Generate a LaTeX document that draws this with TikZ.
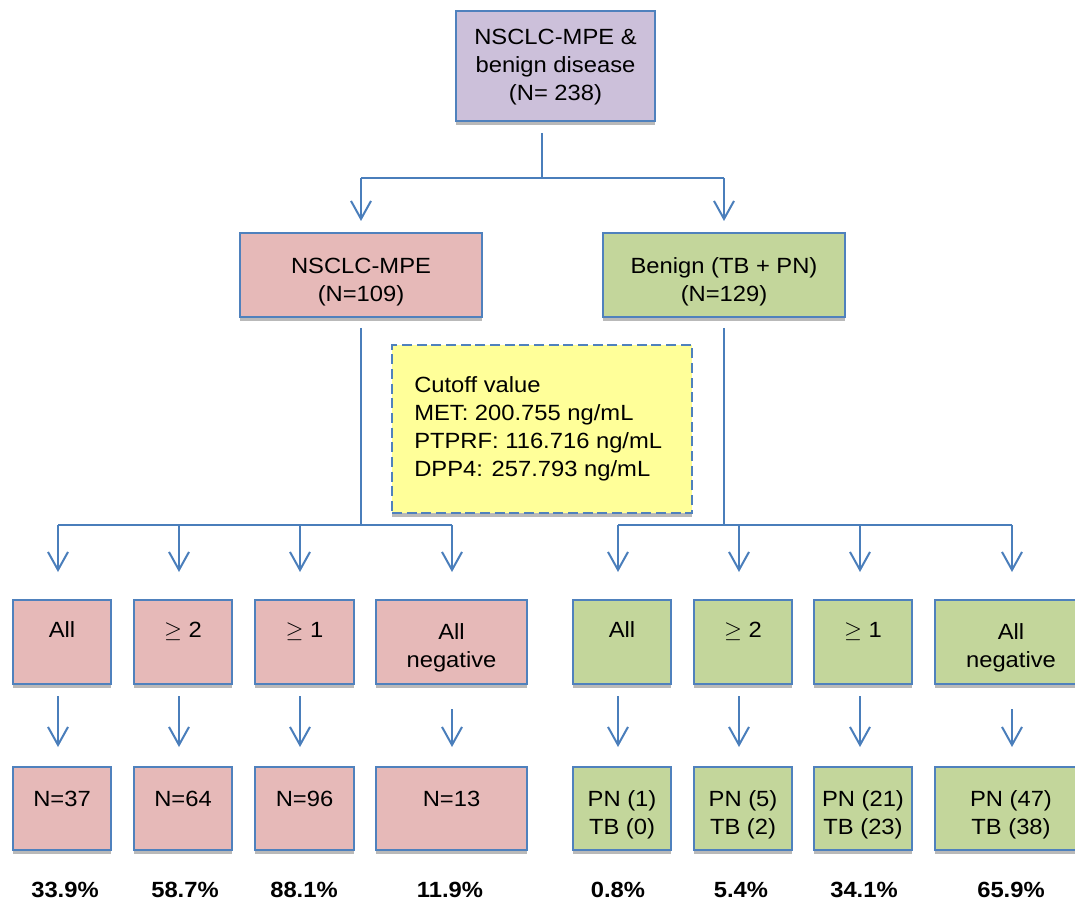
\documentclass[tikz,border=0pt]{standalone}
\usepackage{fontspec}
\setmainfont{Liberation Sans}[FakeStretch=1.08]
\usetikzlibrary{arrows.meta,shadows,calc}
\definecolor{bordc}{RGB}{79,129,189}
\definecolor{linec}{RGB}{74,126,187}
\definecolor{purp}{RGB}{204,192,218}
\definecolor{pinkc}{RGB}{230,185,184}
\definecolor{grn}{RGB}{195,214,155}
\definecolor{yel}{RGB}{255,255,153}
\tikzset{
  bx/.style={draw=bordc, line width=1.5pt, inner sep=0pt,
    general shadow={fill=gray!55, shadow yshift=-3pt}},
  wh/.style 2 args={minimum width=#1*0.75pt, minimum height=#2*0.75pt},
  purpbox/.style={bx, fill=purp},
  pbox/.style={bx, fill=pinkc},
  gbox/.style={bx, fill=grn},
  ybox/.style={bx, fill=yel, dash pattern=on 7.5pt off 3.5pt},
  lt/.style={anchor=north, align=center, inner sep=0pt,
    font=\fontsize{16.5pt}{21pt}\selectfont, execute at begin node=\strut},
  ltl/.style={anchor=north west, align=left, inner sep=0pt,
    font=\fontsize{16.5pt}{21pt}\selectfont, execute at begin node=\strut},
  pct/.style={anchor=base, inner sep=0pt, font=\fontsize{16.5pt}{21pt}\selectfont\bfseries},
  conn/.style={draw=linec, line width=1.5pt},
  arr/.style={conn, -{Straight Barb[length=13.5pt, width=15pt]}},
}
\begin{document}
\begin{tikzpicture}[x=0.75pt, y=-0.75pt]
\useasboundingbox (0,0) rectangle (1075,902);

% top
\node[purpbox, wh={199}{110}, label={[lt, yshift=-13.8pt]north:{NSCLC-MPE \&\\benign disease\\(N= 238)}}] (top) at (555.5,66) {};
% second level
\node[pbox, wh={242}{84}, label={[lt, yshift=-19.05pt]north:{NSCLC-MPE\\(N=109)}}] (mpe) at (361,275) {};
\node[gbox, wh={242}{84}, label={[lt, yshift=-19.05pt]north:{Benign (TB + PN)\\(N=129)}}] (ben) at (724,275) {};
% cutoff
\node[ybox, wh={300}{168}, label={[ltl, xshift=17.25pt, yshift=-24.3pt]north west:{Cutoff value\\MET: 200.755 ng/mL\\PTPRF: 116.716 ng/mL\\DPP4: 257.793 ng/mL}}] (cut) at (542,429) {};

% row 1
\node[pbox, wh={98}{84}, label={[lt, yshift=-13.8pt]north:{All}}] (a1) at (62,642) {};
\node[pbox, wh={98}{84}, label={[lt, yshift=-13.8pt]north:{$\geq$ 2}}] (a2) at (183,642) {};
\node[pbox, wh={99}{84}, label={[lt, yshift=-13.8pt]north:{$\geq$ 1}}] (a3) at (304.5,642) {};
\node[pbox, wh={151}{84}, label={[lt, yshift=-18.3pt]north:{All\\negative}}] (a4) at (451.5,642) {};
\node[gbox, wh={98}{84}, label={[lt, yshift=-13.8pt]north:{All}}] (b1) at (622,642) {};
\node[gbox, wh={98}{84}, label={[lt, yshift=-13.8pt]north:{$\geq$ 2}}] (b2) at (743,642) {};
\node[gbox, wh={98}{84}, label={[lt, yshift=-13.8pt]north:{$\geq$ 1}}] (b3) at (863,642) {};
\node[gbox, wh={152}{84}, label={[lt, yshift=-18.3pt]north:{All\\negative}}] (b4) at (1011,642) {};

% row 2
\node[pbox, wh={98}{83}, label={[lt, yshift=-15.3pt]north:{N=37}}] (n1) at (62,808.5) {};
\node[pbox, wh={98}{83}, label={[lt, yshift=-15.3pt]north:{N=64}}] (n2) at (183,808.5) {};
\node[pbox, wh={99}{83}, label={[lt, yshift=-15.3pt]north:{N=96}}] (n3) at (304.5,808.5) {};
\node[pbox, wh={151}{83}, label={[lt, yshift=-15.3pt]north:{N=13}}] (n4) at (451.5,808.5) {};
\node[gbox, wh={98}{83}, label={[lt, yshift=-18.3pt]north:{PN (1)\\TB (0)}}] (m1) at (622,808.5) {};
\node[gbox, wh={98}{83}, label={[lt, yshift=-18.3pt]north:{PN (5)\\TB (2)}}] (m2) at (743,808.5) {};
\node[gbox, wh={98}{83}, label={[lt, yshift=-18.3pt]north:{PN (21)\\TB (23)}}] (m3) at (863,808.5) {};
\node[gbox, wh={152}{83}, label={[lt, yshift=-18.3pt]north:{PN (47)\\TB (38)}}] (m4) at (1011,808.5) {};

% percentages
\node[pct] (p1) at (65,897) {33.9\%};
\node[pct] (p2) at (185,897) {58.7\%};
\node[pct] (p3) at (304,897) {88.1\%};
\node[pct] (p4) at (450,897) {11.9\%};
\node[pct] (q1) at (618,897) {0.8\%};
\node[pct] (q2) at (741,897) {5.4\%};
\node[pct] (q3) at (864,897) {34.1\%};
\node[pct] (q4) at (1011,897) {65.9\%};

% junction coordinates
\coordinate (jt) at (542,178);
\coordinate (jl) at (361,178);
\coordinate (jr) at (724,178);
\coordinate (cL) at (361,525);
\coordinate (cR) at (724,525);
\coordinate (h1) at (58,525);
\coordinate (h2) at (179,525);
\coordinate (h3) at (300,525);
\coordinate (h4) at (452,525);
\coordinate (k1) at (618,525);
\coordinate (k2) at (739,525);
\coordinate (k3) at (860,525);
\coordinate (k4) at (1012,525);

% top connectors
\draw[conn] (top.south -| jt) ++(0,11) -- (jt);
\draw[conn] (jl) -- (jr);
\draw[arr, shorten >=8.25pt] (jl) -- (jl |- mpe.north);
\draw[arr, shorten >=8.25pt] (jr) -- (jr |- ben.north);

% to branch lines
\draw[conn] (mpe.south) ++(0,10) -- (cL);
\draw[conn] (ben.south) ++(0,10) -- (cR);
\draw[conn] (h1) -- (h4);
\draw[conn] (k1) -- (k4);

% arrows to row 1
\draw[arr, shorten >=20.25pt] (h1) -- (h1 |- a1.north);
\draw[arr, shorten >=20.25pt] (h2) -- (h2 |- a2.north);
\draw[arr, shorten >=20.25pt] (h3) -- (h3 |- a3.north);
\draw[arr, shorten >=20.25pt] (h4) -- (h4 |- a4.north);
\draw[arr, shorten >=20.25pt] (k1) -- (k1 |- b1.north);
\draw[arr, shorten >=20.25pt] (k2) -- (k2 |- b2.north);
\draw[arr, shorten >=20.25pt] (k3) -- (k3 |- b3.north);
\draw[arr, shorten >=20.25pt] (k4) -- (k4 |- b4.north);

% arrows row 1 -> row 2
\draw[arr, shorten >=14.25pt] (h1 |- a1.south) ++(0,11) -- (h1 |- n1.north);
\draw[arr, shorten >=14.25pt] (h2 |- a2.south) ++(0,11) -- (h2 |- n2.north);
\draw[arr, shorten >=14.25pt] (h3 |- a3.south) ++(0,11) -- (h3 |- n3.north);
\draw[arr, shorten >=14.25pt] (h4 |- a4.south) ++(0,24) -- (h4 |- n4.north);
\draw[arr, shorten >=14.25pt] (k1 |- b1.south) ++(0,11) -- (k1 |- m1.north);
\draw[arr, shorten >=14.25pt] (k2 |- b2.south) ++(0,11) -- (k2 |- m2.north);
\draw[arr, shorten >=14.25pt] (k3 |- b3.south) ++(0,11) -- (k3 |- m3.north);
\draw[arr, shorten >=14.25pt] (k4 |- b4.south) ++(0,24) -- (k4 |- m4.north);
\end{tikzpicture}
\end{document}
